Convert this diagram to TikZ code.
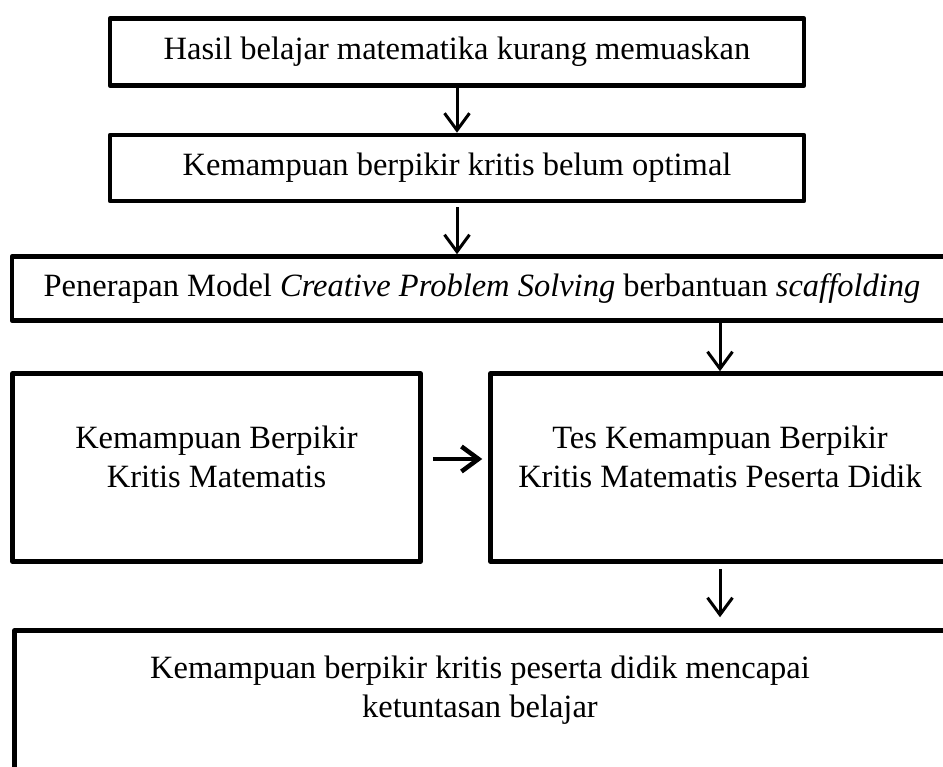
\documentclass[tikz,border=0pt]{standalone}
\usepackage{fontspec}
\setmainfont{Liberation Serif}
\usetikzlibrary{arrows.meta}

\begin{document}
\begin{tikzpicture}[x=1pt, y=-1pt,
        >={Straight Barb[length=17pt, width=25pt]},
        box/.style={draw, line width=4.5pt, line join=round, minimum height=67pt, align=center, inner sep=0pt, font=\fontsize{32.5}{39}\selectfont},
        tallbox/.style={box, minimum height=188pt},
        flow/.style={->, line width=3pt}
      ]
      \useasboundingbox (0,0) rectangle (943,767);
      \clip (0,0) rectangle (943,767);

      % Problem
      \node[box, minimum width=694pt] (hasil) at (457,52) {Hasil belajar matematika kurang memuaskan};
      \node[box, minimum width=694pt, minimum height=66pt] (kritis) at (457,168) {Kemampuan berpikir kritis belum optimal};
      \draw[flow] (hasil) -- (kritis);

      % Treatment
      \node[box, minimum width=940pt, minimum height=64pt] (model) at (482,288.5) {Penerapan Model \textit{Creative Problem Solving} berbantuan \textit{scaffolding}};
      \draw[flow, shorten <=4pt] (kritis.south) -- (kritis.south |- model.north);

      % Test
      \node[tallbox, minimum width=408pt] (konsep) at (216.5,467.5) {Kemampuan Berpikir\\Kritis Matematis\rule[-21pt]{0pt}{0pt}};
      \node[tallbox, minimum width=459pt] (tes) at (720,467.5) {Tes Kemampuan Berpikir\\Kritis Matematis Peserta Didik\rule[-21pt]{0pt}{0pt}};
      \draw[flow] (tes.north |- model.south) -- (tes.north);
      \draw[flow, line width=4.5pt, shorten <=10pt, shorten >=6pt] ([yshift=8.5pt]konsep.east) -- ([yshift=8.5pt]tes.west);

      % Result
      \node[box, minimum width=931pt, minimum height=144pt] (tuntas) at (480,702.5) {Kemampuan berpikir kritis peserta didik mencapai\\ketuntasan belajar\rule[-31pt]{0pt}{0pt}};
      \draw[flow, shorten <=5pt, shorten >=11pt] (tes.south) -- (tes.south |- tuntas.north);

    \end{tikzpicture}
\end{document}
